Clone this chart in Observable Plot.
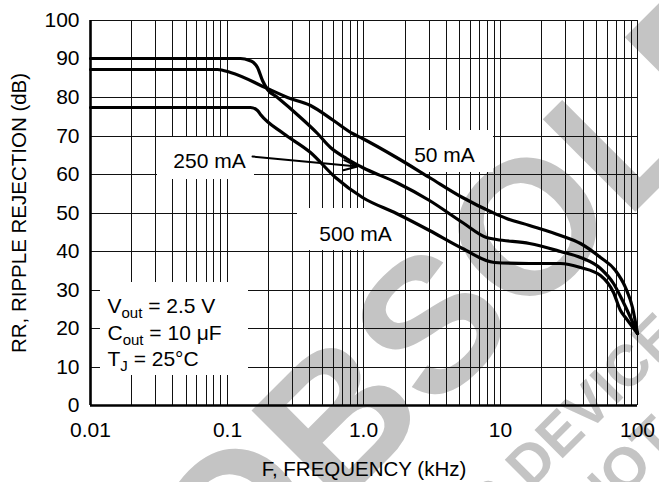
<!DOCTYPE html>
<html><head><meta charset="utf-8">
<script src="https://cdn.jsdelivr.net/npm/d3@7"></script>
<script src="https://cdn.jsdelivr.net/npm/@observablehq/plot@0.6"></script>
<style>
html,body{margin:0;padding:0;background:#fff;overflow:hidden;}
#chart svg{overflow:hidden;display:block;}
</style></head><body><div id="chart"></div>
<script>
// ---- tick labels / grid ----
const xTickValues = [0.01, 0.1, 1, 10, 100];
const xTickLabels = ["0.01", "0.1", "1.0", "10", "100"];
const yTickValues = [0, 10, 20, 30, 40, 50, 60, 70, 80, 90, 100];
const decades = [0.01, 0.1, 1, 10];
const multipliers = [1, 2, 3, 4, 5, 6, 7, 8, 9];

// ---- series (frequency kHz, ripple rejection dB) ----
const seriesNames = ["50 mA", "250 mA", "500 mA"];
const freq50 = [0.01, 0.085, 0.106, 0.197, 0.276, 0.406, 0.598, 0.824, 0.975, 1.73, 3.0, 5.25, 8.7, 11, 16.2, 27.3, 38.3, 53.6, 69, 81.7, 91.9, 100];
const rr50   = [87.4, 87.4, 86.5, 82.4, 80, 77.9, 74, 70.6, 69.3, 64.4, 59.2, 54, 50.2, 48.5, 46.8, 44.2, 42.1, 38.4, 35, 30.6, 25.5, 18.7];
const freq250 = [0.01, 0.125, 0.145, 0.156, 0.166, 0.181, 0.197, 0.233, 0.343, 0.457, 0.569, 0.745, 0.975, 1.73, 3.0, 5.25, 7.87, 9.31, 16.2, 27.3, 38.3, 53.6, 66.7, 77.6, 88.9, 100];
const rr250   = [90, 90, 89.6, 89, 87.8, 84.4, 82, 80, 74.8, 70.6, 67, 64.1, 61.8, 57.9, 53.2, 47.5, 43.6, 43.1, 42.1, 40, 38.4, 35.6, 31.7, 27.3, 22.9, 18.7];
const freq500 = [0.01, 0.148, 0.166, 0.175, 0.258, 0.406, 0.62, 0.975, 1.73, 3.0, 5.25, 9.0, 16.2, 27.3, 38.3, 53.6, 66.7, 75.1, 81.7, 100];
const rr500   = [77.4, 77.4, 76.6, 75.5, 70.6, 65.7, 59.2, 54, 49.9, 45.5, 40.8, 37.1, 36.9, 36.9, 35.8, 33.8, 29.4, 24.7, 22.9, 18.7];

// ---- annotations (data units) ----
const labelText = ["50 mA", "250 mA", "500 mA"];
const labelFreq = [3.88, 0.0741, 0.867];
const labelRR = [64.9, 63.4, 44.4];
const boxF1 = [2.05, 0.031, 0.327, 0.0118];
const boxF2 = [8.8, 0.158, 1.82, 0.143];
const boxR1 = [60.5, 58.7, 40.3, 7.8];
const boxR2 = [71.4, 69.6, 51.2, 31.9];
const condText = ["V_{out} = 2.5 V", "C_{out} = 10 \u03bcF", "T_{J} = 25\u00b0C"];
const condFreq = [0.01331, 0.01331, 0.01331];
const condRR = [25.6, 18.7, 11.9];
const arrowF = [0.153, 0.896];
const arrowR = [64.7, 62.0];

// ---- build tables ----
const xGrid = decades.flatMap(d => multipliers.map(m => +(d * m).toPrecision(3))).concat([100]);
const rows = [
  ...freq50.map((f, i) => ({series: seriesNames[0], f, rr: rr50[i]})),
  ...freq250.map((f, i) => ({series: seriesNames[1], f, rr: rr250[i]})),
  ...freq500.map((f, i) => ({series: seriesNames[2], f, rr: rr500[i]}))
];
const labels = labelText.map((t, i) => ({t, f: labelFreq[i], rr: labelRR[i]}));
const boxes = boxF1.map((f1, i) => ({f1, f2: boxF2[i], r1: boxR1[i], r2: boxR2[i]}));
const conds = condText.map((t, i) => ({t, f: condFreq[i], rr: condRR[i]}));

const FONT = "'Liberation Sans', Arial, Helvetica, sans-serif";
const WM = "#c4c4c4";

const svg = Plot.plot({
  width: 659, height: 482,
  marginLeft: 90, marginRight: 22, marginTop: 20, marginBottom: 77,
  x: {type: "log", domain: [0.01, 100], round: true},
  y: {domain: [0, 100], round: true},
  style: {fontFamily: FONT, background: "white", color: "black", overflow: "hidden"},
  marks: [
    // watermark
    Plot.text(["OBSOLETE"], {frameAnchor: "top-left", dx: 140, dy: 596, rotate: -45, textAnchor: "start", lineAnchor: "bottom", fontSize: 190, fontWeight: "bold", fill: WM}),
    Plot.text(["THIS DEVICE IS"], {frameAnchor: "top-left", dx: 335, dy: 575, rotate: -45, textAnchor: "start", lineAnchor: "bottom", fontSize: 58, fontWeight: "bold", fill: WM}),
    Plot.text(["NOT RECOMMENDED"], {frameAnchor: "top-left", dx: 503, dy: 507, rotate: -45, textAnchor: "start", lineAnchor: "bottom", fontSize: 58, fontWeight: "bold", fill: WM}),
    // grid
    Plot.ruleX(xGrid, {stroke: "#111", strokeWidth: 1}),
    Plot.ruleY(yTickValues, {stroke: "#111", strokeWidth: 1}),
    // white label boxes
    Plot.rect(boxes, {x1: "f1", x2: "f2", y1: "r1", y2: "r2", fill: "white"}),
    // thick frame
    Plot.ruleX([0.01], {strokeWidth: 2.6}),
    Plot.ruleY([0], {strokeWidth: 2.6}),
    // curves
    Plot.line(rows, {x: "f", y: "rr", z: "series", stroke: "black", strokeWidth: 3.2, curve: "monotone-x", strokeLinejoin: "round"}),
    // arrow
    Plot.arrow([0], {x1: () => arrowF[0], y1: () => arrowR[0], x2: () => arrowF[1], y2: () => arrowR[1], strokeWidth: 2, headLength: 11, headAngle: 40}),
    // labels
    Plot.text(labels, {x: "f", y: "rr", text: "t", fontSize: 21, fill: "black"}),
    Plot.text(conds, {x: "f", y: "rr", text: "t", fontSize: 21, textAnchor: "start", fill: "black"}),
    // axes
    Plot.axisX(xTickValues, {tickFormat: d => xTickLabels[xTickValues.indexOf(d)], tickSize: 0, tickPadding: 17, fontSize: 21, label: null}),
    Plot.axisY(yTickValues, {tickSize: 0, tickPadding: 11, fontSize: 21, label: null}),
    Plot.text(["F, FREQUENCY (kHz)"], {frameAnchor: "bottom", dy: 64, fontSize: 20.5, lineAnchor: "middle", fill: "black"}),
    Plot.text(["RR, RIPPLE REJECTION (dB)"], {frameAnchor: "left", dx: -71, rotate: -90, fontSize: 20.5, textAnchor: "middle", lineAnchor: "middle", fill: "black"})
  ]
});

// subscripts
d3.select(svg).selectAll("text").each(function () {
  const t = this.textContent;
  const m = t.match(/^(.*?)_\{(.*?)\}(.*)$/);
  if (!m) return;
  const el = d3.select(this);
  el.text(null);
  el.append("tspan").text(m[1]);
  el.append("tspan").attr("dy", 5).attr("font-size", 15).text(m[2]);
  el.append("tspan").attr("dy", -5).text(m[3]);
});

document.getElementById("chart").appendChild(svg);
</script>
</body></html>
